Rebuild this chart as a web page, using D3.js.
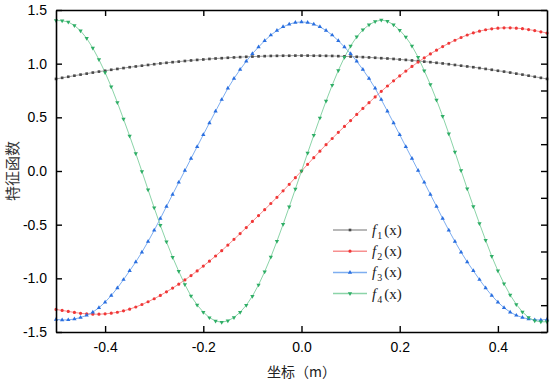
<!DOCTYPE html>
<html><head><meta charset="utf-8">
<script src="https://cdn.jsdelivr.net/npm/d3@7"></script>
<style>body{margin:0;background:#fff}</style>
</head><body>
<script>
const xs = [-0.5,-0.4875,-0.475,-0.4625,-0.45,-0.4375,-0.425,-0.4125,-0.4,-0.3875,-0.375,-0.3625,-0.35,-0.3375,-0.325,-0.3125,-0.3,-0.2875,-0.275,-0.2625,-0.25,-0.2375,-0.225,-0.2125,-0.2,-0.1875,-0.175,-0.1625,-0.15,-0.1375,-0.125,-0.1125,-0.1,-0.0875,-0.075,-0.0625,-0.05,-0.0375,-0.025,-0.0125,0,
0.0125,0.025,0.0375,0.05,0.0625,0.075,0.0875,0.1,0.1125,0.125,0.1375,0.15,0.1625,0.175,0.1875,0.2,0.2125,0.225,0.2375,0.25,0.2625,0.275,0.2875,0.3,0.3125,0.325,0.3375,0.35,0.3625,0.375,0.3875,0.4,0.4125,0.425,0.4375,0.45,0.4625,0.475,0.4875,0.5];

const f1 = [0.858,0.868,0.878,0.888,0.898,0.907,0.917,0.926,0.934,0.943,0.951,0.959,0.967,0.974,0.981,0.988,0.995,1.002,1.008,1.014,1.019,1.025,1.030,1.035,1.039,1.044,1.048,1.051,1.055,1.058,1.061,1.064,1.066,1.068,1.070,1.072,1.073,1.074,1.074,1.075,1.075,
1.075,1.074,1.074,1.073,1.072,1.070,1.068,1.066,1.064,1.061,1.058,1.055,1.051,1.048,1.044,1.039,1.035,1.030,1.025,1.019,1.014,1.008,1.002,0.995,0.988,0.981,0.974,0.967,0.959,0.951,0.943,0.934,0.926,0.917,0.907,0.898,0.888,0.878,0.868,0.858];

const f2 = [-1.290,-1.299,-1.308,-1.318,-1.326,-1.331,-1.334,-1.334,-1.331,-1.325,-1.316,-1.303,-1.287,-1.267,-1.244,-1.218,-1.190,-1.159,-1.126,-1.091,-1.054,-1.015,-0.974,-0.931,-0.886,-0.840,-0.792,-0.742,-0.690,-0.637,-0.583,-0.527,-0.470,-0.415,-0.360,-0.303,-0.245,-0.185,-0.124,-0.062,0,
0.062,0.124,0.185,0.245,0.303,0.360,0.415,0.470,0.527,0.583,0.637,0.690,0.742,0.792,0.840,0.886,0.931,0.974,1.015,1.054,1.091,1.126,1.159,1.190,1.218,1.244,1.267,1.287,1.303,1.316,1.325,1.331,1.334,1.334,1.331,1.326,1.318,1.308,1.297,1.285];

const f3 = [-1.383,-1.388,-1.387,-1.379,-1.365,-1.345,-1.315,-1.274,-1.222,-1.160,-1.090,-1.012,-0.930,-0.847,-0.756,-0.657,-0.553,-0.443,-0.330,-0.218,-0.106,0.004,0.116,0.227,0.338,0.448,0.557,0.665,0.770,0.862,0.945,1.022,1.093,1.155,1.214,1.266,1.309,1.343,1.368,1.384,1.389,
1.384,1.368,1.343,1.309,1.266,1.214,1.155,1.093,1.022,0.945,0.862,0.770,0.665,0.557,0.448,0.338,0.227,0.116,0.004,-0.106,-0.218,-0.330,-0.443,-0.553,-0.657,-0.756,-0.847,-0.930,-1.012,-1.090,-1.160,-1.222,-1.274,-1.315,-1.345,-1.365,-1.379,-1.387,-1.388,-1.383];

const f4 = [1.402,1.400,1.388,1.356,1.306,1.236,1.145,1.038,0.918,0.785,0.638,0.484,0.326,0.163,-0.004,-0.174,-0.343,-0.506,-0.660,-0.803,-0.935,-1.058,-1.165,-1.248,-1.315,-1.366,-1.398,-1.409,-1.396,-1.365,-1.316,-1.251,-1.166,-1.061,-0.938,-0.802,-0.654,-0.497,-0.334,-0.168,0,
0.168,0.333,0.495,0.652,0.800,0.937,1.060,1.165,1.250,1.315,1.362,1.393,1.406,1.396,1.362,1.312,1.248,1.165,1.060,0.935,0.805,0.662,0.510,0.348,0.178,0.005,-0.165,-0.330,-0.490,-0.645,-0.795,-0.930,-1.050,-1.155,-1.243,-1.313,-1.365,-1.395,-1.405,-1.405];

const seriesNames = ["1","2","3","4"];
const xTicks = [-0.4,-0.2,0,0.2,0.4];
const yTicks = [-1.5,-1.0,-0.5,0.0,0.5,1.0,1.5];
const yMinorTicks = [-1.5,-1.25,-1.0,-0.75,-0.5,-0.25,0,0.25,0.5,0.75,1.0,1.25,1.5];
const xTitle = "坐标（m）";
const yTitle = "特征函数";

const series = [
  {name: seriesNames[0], values: f1, line: "#a0a0a0", mark: "#4a4a4a", sym: d3.symbolSquare, size: 7},
  {name: seriesNames[1], values: f2, line: "#f79090", mark: "#f03838", sym: d3.symbolCircle, size: 8},
  {name: seriesNames[2], values: f3, line: "#7eaef0", mark: "#2a6fe0", sym: d3.symbolTriangle, size: 8},
  {name: seriesNames[3], values: f4, line: "#8bd4a8", mark: "#2fae66", sym: d3.symbolTriangle, size: 8, flip: true}
];

const W = 554, H = 383;
const m = {l: 56, r: 7, t: 10, b: 51};
const svg = d3.select("body").append("svg").attr("width", W).attr("height", H);
const x = d3.scaleLinear().domain([-0.5, 0.5]).range([m.l, W - m.r]);
const y = d3.scaleLinear().domain([-1.5, 1.5]).range([H - m.b, m.t]);
const fmt = v => d3.format(".1f")(v).replace("−", "-");
const tickFont = "Liberation Sans, Arial, sans-serif";

// series
const line = d3.line().x((d, i) => x(xs[i])).y(d => y(d));
series.forEach(s => {
  svg.append("path").datum(s.values).attr("d", line)
    .attr("fill", "none").attr("stroke", s.line).attr("stroke-width", 1);
});
series.forEach(s => {
  const sym = d3.symbol().type(s.sym).size(s.size);
  svg.append("g").selectAll("path").data(s.values).join("path")
    .attr("d", sym)
    .attr("transform", (d, i) => `translate(${x(xs[i])},${y(d)})${s.flip ? " rotate(180)" : ""}`)
    .attr("fill", s.mark);
});

// axes
const gb = svg.append("g").attr("transform", `translate(0,${y(-1.5)})`)
  .call(d3.axisBottom(x).tickValues(xTicks).tickFormat(fmt).tickSizeInner(-6).tickSizeOuter(0).tickPadding(10));
const gt = svg.append("g").attr("transform", `translate(0,${y(1.5)})`)
  .call(d3.axisTop(x).tickValues(xTicks).tickFormat("").tickSizeInner(-6).tickSizeOuter(0));
const gl = svg.append("g").attr("transform", `translate(${x(-0.5)},0)`)
  .call(d3.axisLeft(y).tickValues(yTicks).tickFormat(fmt).tickSizeInner(-6).tickSizeOuter(0).tickPadding(9));
const gr = svg.append("g").attr("transform", `translate(${x(0.5)},0)`)
  .call(d3.axisRight(y).tickValues(yMinorTicks).tickFormat("").tickSizeInner(-6).tickSizeOuter(0));
[gb, gt, gl, gr].forEach(g => {
  g.select(".domain").attr("stroke", "#000").attr("stroke-width", 1.6);
  g.selectAll(".tick line").attr("stroke", "#000").attr("stroke-width", 1.4);
  g.selectAll("text").attr("font-family", tickFont).attr("font-size", 14).attr("fill", "#000");
});

// titles
svg.append("text").attr("x", (x(-0.5) + x(0.5)) / 2).attr("y", 377)
  .attr("text-anchor", "middle").attr("font-family", "Noto Sans CJK SC, sans-serif")
  .attr("font-size", 14).attr("fill", "#222").text(xTitle);
svg.append("text").attr("transform", `translate(11,${y(0)}) rotate(-90)`)
  .attr("text-anchor", "middle").attr("dominant-baseline", "central")
  .attr("font-family", "Noto Sans CJK SC, sans-serif").attr("font-size", 15)
  .attr("fill", "#333").text(yTitle);

// legend
const lg = svg.append("g");
series.forEach((s, i) => {
  const yy = 230 + i * 21.2;
  lg.append("line").attr("x1", 333).attr("x2", 367).attr("y1", yy).attr("y2", yy)
    .attr("stroke", s.line).attr("stroke-width", 1.5);
  lg.append("path").attr("d", d3.symbol().type(s.sym).size(s.size)())
    .attr("transform", `translate(350,${yy})${s.flip ? " rotate(180)" : ""}`).attr("fill", s.mark);
  const t = lg.append("text").attr("x", 372).attr("y", yy + 5)
    .attr("font-family", "Liberation Serif, Times New Roman, serif").attr("font-size", 15).attr("fill", "#222");
  t.append("tspan").attr("font-style", "italic").text("f");
  t.append("tspan").attr("font-size", 10).attr("dy", 4).attr("dx", 1).text(s.name);
  t.append("tspan").attr("dy", -4).attr("dx", 2).text("(x)");
});
</script>
</body></html>
